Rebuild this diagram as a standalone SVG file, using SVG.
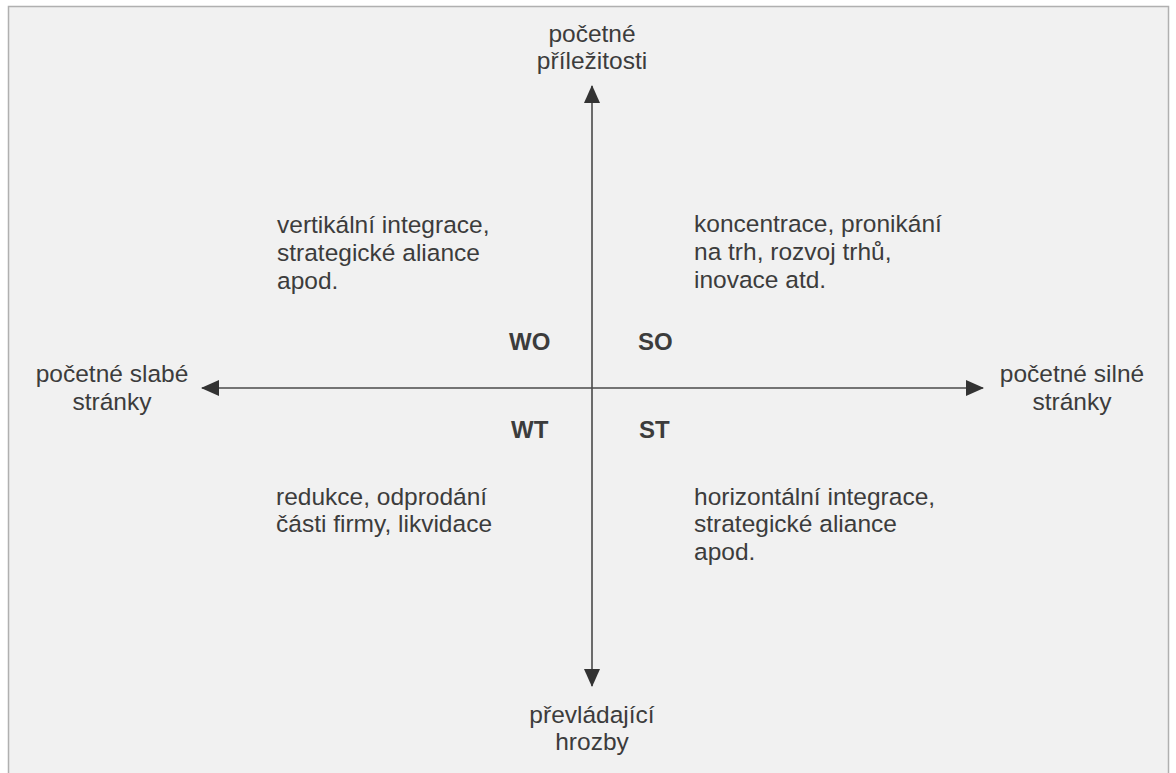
<svg xmlns="http://www.w3.org/2000/svg" width="1176" height="773" viewBox="0 0 1176 773">
<defs>
<style>
.t{font-family:"Liberation Sans",Arial,sans-serif;font-size:24.5px;fill:#3c3c3c}
.c{text-anchor:middle}
.b{font-weight:bold;font-size:24px}
.ax{stroke:#4a4a4a;stroke-width:1.6;fill:none}
</style>
<marker id="ah" viewBox="0 0 18 16" refX="17" refY="8" markerWidth="18" markerHeight="16" markerUnits="userSpaceOnUse" orient="auto">
<path d="M0,0 L18,8 L0,16 Z" fill="#333"/>
</marker>
</defs>
<rect x="0" y="0" width="1176" height="773" fill="#ffffff"/>
<rect x="8.5" y="6.5" width="1160" height="780" fill="#f1f1f1" stroke="#b0b0b0" stroke-width="1.5"/>
<g id="connectors">
<line class="ax" x1="592" y1="388" x2="592" y2="86" marker-end="url(#ah)"/>
<line class="ax" x1="592" y1="388" x2="592" y2="686" marker-end="url(#ah)"/>
<line class="ax" x1="592" y1="388" x2="202" y2="388" marker-end="url(#ah)"/>
<line class="ax" x1="592" y1="388" x2="983" y2="388" marker-end="url(#ah)"/>
</g>
<g id="top-label">
<text class="t c" x="592" y="42">početné</text>
<text class="t c" x="592" y="69">příležitosti</text>
</g>
<g id="bottom-label">
<text class="t c" x="592" y="723">převládající</text>
<text class="t c" x="592" y="750">hrozby</text>
</g>
<g id="left-label">
<text class="t c" x="112" y="382">početné slabé</text>
<text class="t c" x="112" y="410">stránky</text>
</g>
<g id="right-label">
<text class="t c" x="1072" y="382">početné silné</text>
<text class="t c" x="1072" y="410">stránky</text>
</g>
<g id="wo-text">
<text class="t" x="277" y="233">vertikální integrace,</text>
<text class="t" x="277" y="261">strategické aliance</text>
<text class="t" x="277" y="289">apod.</text>
</g>
<g id="so-text">
<text class="t" x="694" y="232">koncentrace, pronikání</text>
<text class="t" x="694" y="260">na trh, rozvoj trhů,</text>
<text class="t" x="694" y="288">inovace atd.</text>
</g>
<g id="wt-text">
<text class="t" x="276" y="505">redukce, odprodání</text>
<text class="t" x="276" y="532">části firmy, likvidace</text>
</g>
<g id="st-text">
<text class="t" x="694" y="505">horizontální integrace,</text>
<text class="t" x="694" y="532">strategické aliance</text>
<text class="t" x="694" y="560">apod.</text>
</g>
<g id="wo"><text class="t b" x="509" y="350">WO</text></g>
<g id="so"><text class="t b" x="638" y="350">SO</text></g>
<g id="wt"><text class="t b" x="511" y="438">WT</text></g>
<g id="st"><text class="t b" x="639" y="438">ST</text></g>
</svg>
